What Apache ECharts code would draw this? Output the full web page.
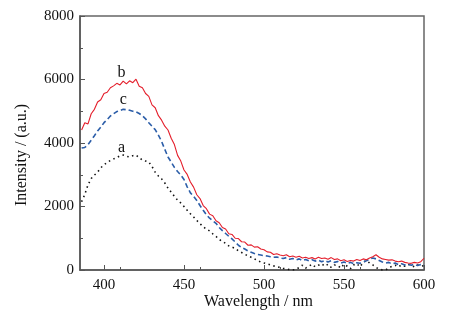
<!DOCTYPE html>
<html><head><meta charset="utf-8">
<script src="https://cdn.jsdelivr.net/npm/echarts@6/dist/echarts.min.js"></script>
<style>html,body{margin:0;padding:0;background:#fff}#c{width:475px;height:322px}</style>
</head><body><div id="c"></div>
<script>
// wavelengths 386..600 step 2 nm
const startWl = 386, stepWl = 2;
const seriesB = [4410,4640,4600,4920,5060,5290,5360,5560,5600,5740,5800,5880,5830,5950,5860,5960,5900,6010,5790,5740,5560,5470,5200,5110,4860,4720,4530,4410,4150,3950,3610,3430,3150,3010,2770,2610,2370,2250,2030,1930,1760,1710,1550,1490,1340,1290,1140,1120,1000,990,890,880,780,790,720,730,660,640,570,560,490,510,470,450,480,420,440,400,430,380,400,360,390,350,400,360,380,340,390,330,350,290,320,270,300,280,330,300,350,320,380,420,480,400,350,330,310,320,280,260,280,240,220,210,240,220,260,370];
const seriesC = [3840,3860,3950,4090,4230,4380,4500,4640,4740,4850,4920,4990,5020,5060,5050,5030,5000,4980,4930,4860,4760,4640,4530,4420,4250,4050,3800,3560,3400,3230,3100,2990,2850,2620,2430,2320,2190,2030,1880,1740,1630,1550,1470,1340,1240,1150,1060,980,880,780,710,660,600,560,520,490,470,450,440,420,400,410,380,360,390,340,360,320,350,300,330,290,320,280,310,260,300,250,290,240,270,220,250,210,240,200,230,210,250,290,340,380,350,300,250,220,240,190,220,170,200,160,190,150,180,140,170,160];
const seriesA = [2150,2380,2680,2880,2990,3080,3220,3310,3390,3450,3500,3540,3600,3620,3580,3560,3600,3620,3540,3460,3430,3400,3260,3080,2960,2870,2740,2580,2450,2320,2200,2110,2000,1880,1770,1670,1560,1460,1360,1290,1230,1140,1060,960,900,840,760,720,680,600,550,500,440,400,350,300,250,220,190,160,130,100,80,50,30,10,0,20,80,150,60,120,180,100,150,200,120,180,80,160,140,60,180,120,40,160,200,100,240,300,220,160,80,30,0,0,60,120,150,100,160,120,180,140,100,160,120,140];
const xTicks = [400,450,500,550,600];
const curveLabels = [{name:'b', x:411, y:6200},{name:'c', x:412, y:5350},{name:'a', x:411, y:3840}];
const xTitle = 'Wavelength / nm', yTitle = 'Intensity / (a.u.)';

function pairs(arr){ return arr.map((v,i)=>[startWl+i*stepWl, v]); }
const serif = '"Liberation Serif","DejaVu Serif",serif';
const chart = echarts.init(document.getElementById('c'));
const lbl = n => { const o = curveLabels.find(l=>l.name===n); return {markPoint:{symbol:'circle',symbolSize:0,silent:true,
  label:{show:true,formatter:n,color:'#111',fontFamily:serif,fontSize:16,position:'inside'},data:[{coord:[o.x,o.y]}]}}; };
chart.setOption({
  animation:false,
  grid:{left:80,right:51,top:16,bottom:52,show:true,borderColor:'#666',borderWidth:1.5,backgroundColor:'transparent'},
  graphic:[
    {type:'text',left:'center',x:0,top:294,style:{text:xTitle,font:'16px '+serif,fill:'#111'},left:204},
    {type:'text',x:22,y:155,rotation:Math.PI/2,style:{text:yTitle,font:'16px '+serif,fill:'#111',align:'center',verticalAlign:'middle'}}
  ],
  xAxis:{type:'value',min:385,max:600,interval:50,
    axisLine:{lineStyle:{color:'#555',width:1.5}},
    axisTick:{inside:true,length:5,lineStyle:{color:'#555'},customValues:xTicks},
    minorTick:{show:true,splitNumber:2,length:3,lineStyle:{color:'#555'}},
    axisLabel:{customValues:xTicks,fontFamily:serif,fontSize:15,color:'#111',margin:8},
    splitLine:{show:false}},
  yAxis:{type:'value',min:0,max:8000,interval:2000,
    axisLine:{show:true,lineStyle:{color:'#555',width:1.5}},
    axisTick:{show:true,inside:true,length:5,lineStyle:{color:'#555'}},
    minorTick:{show:true,splitNumber:2,length:3,lineStyle:{color:'#555'}},
    axisLabel:{fontFamily:serif,fontSize:15,color:'#111',margin:6,formatter:v=>String(v)},
    splitLine:{show:false}},
  series:[
    Object.assign({type:'line',name:'a',data:pairs(seriesA),symbol:'none',
      lineStyle:{color:'#111',width:1.6,type:[1.5,3.5]}}, lbl('a')),
    Object.assign({type:'line',name:'c',data:pairs(seriesC),symbol:'none',
      lineStyle:{color:'#2b5da8',width:1.6,type:[5,3]}}, lbl('c')),
    Object.assign({type:'line',name:'b',data:pairs(seriesB),symbol:'none',
      lineStyle:{color:'#e41e2b',width:1.1}}, lbl('b'))
  ]
});
</script></body></html>
